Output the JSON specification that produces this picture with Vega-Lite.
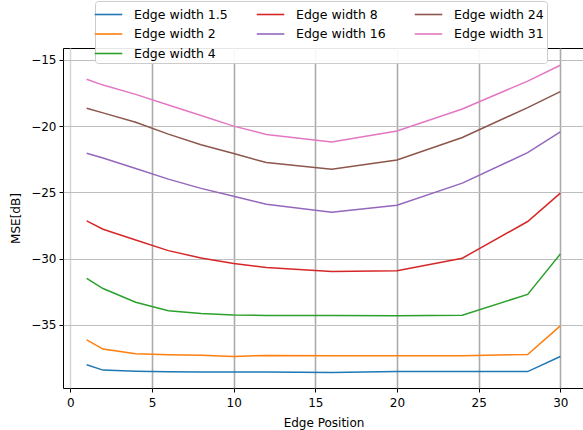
{
  "$schema": "https://vega.github.io/schema/vega-lite/v6.json",
  "width": 521,
  "height": 340,
  "autosize": {"type": "none"},
  "padding": {"left": 63, "top": 48, "right": 0, "bottom": 42},
  "background": "white",
  "config": {
    "font": "DejaVu Sans",
    "view": {"stroke": "black", "strokeWidth": 1},
    "axis": {
      "labelFont": "DejaVu Sans", "labelFontSize": 12, "labelColor": "black",
      "titleFont": "DejaVu Sans", "titleFontSize": 12, "titleFontWeight": "normal", "titleColor": "black",
      "domain": false, "tickColor": "black", "tickSize": 4, "tickWidth": 1
    }
  },
  "data": {"values": [
    {"k":"a","x":1,"y":-38.02},{"k":"a","x":2,"y":-38.42},{"k":"a","x":4,"y":-38.5},{"k":"a","x":6,"y":-38.55},{"k":"a","x":8,"y":-38.56},{"k":"a","x":10,"y":-38.56},{"k":"a","x":12,"y":-38.56},{"k":"a","x":16,"y":-38.6},{"k":"a","x":20,"y":-38.53},{"k":"a","x":24,"y":-38.53},{"k":"a","x":28,"y":-38.53},{"k":"a","x":30,"y":-37.39},
    {"k":"b","x":1,"y":-36.13},{"k":"b","x":2,"y":-36.83},{"k":"b","x":4,"y":-37.19},{"k":"b","x":6,"y":-37.26},{"k":"b","x":8,"y":-37.3},{"k":"b","x":10,"y":-37.39},{"k":"b","x":12,"y":-37.31},{"k":"b","x":16,"y":-37.34},{"k":"b","x":20,"y":-37.33},{"k":"b","x":24,"y":-37.33},{"k":"b","x":28,"y":-37.24},{"k":"b","x":30,"y":-35.08},
    {"k":"c","x":1,"y":-16.46},{"k":"c","x":2,"y":-16.9},{"k":"c","x":4,"y":-17.6},{"k":"c","x":6,"y":-18.4},{"k":"c","x":8,"y":-19.2},{"k":"c","x":10,"y":-20.0},{"k":"c","x":12,"y":-20.63},{"k":"c","x":16,"y":-21.2},{"k":"c","x":20,"y":-20.36},{"k":"c","x":24,"y":-18.7},{"k":"c","x":28,"y":-16.6},{"k":"c","x":30,"y":-15.4},
    {"k":"d","x":1,"y":-27.15},{"k":"d","x":2,"y":-27.78},{"k":"d","x":4,"y":-28.6},{"k":"d","x":6,"y":-29.4},{"k":"d","x":8,"y":-29.95},{"k":"d","x":10,"y":-30.37},{"k":"d","x":12,"y":-30.67},{"k":"d","x":16,"y":-30.97},{"k":"d","x":20,"y":-30.92},{"k":"d","x":24,"y":-29.97},{"k":"d","x":28,"y":-27.2},{"k":"d","x":30,"y":-25.06},
    {"k":"e","x":1,"y":-22.04},{"k":"e","x":2,"y":-22.4},{"k":"e","x":4,"y":-23.2},{"k":"e","x":6,"y":-24.0},{"k":"e","x":8,"y":-24.7},{"k":"e","x":10,"y":-25.3},{"k":"e","x":12,"y":-25.9},{"k":"e","x":16,"y":-26.5},{"k":"e","x":20,"y":-25.97},{"k":"e","x":24,"y":-24.3},{"k":"e","x":28,"y":-22.0},{"k":"e","x":30,"y":-20.43},
    {"k":"f","x":1,"y":-31.5},{"k":"f","x":2,"y":-32.26},{"k":"f","x":4,"y":-33.3},{"k":"f","x":6,"y":-33.94},{"k":"f","x":8,"y":-34.14},{"k":"f","x":10,"y":-34.25},{"k":"f","x":12,"y":-34.3},{"k":"f","x":16,"y":-34.3},{"k":"f","x":20,"y":-34.32},{"k":"f","x":24,"y":-34.27},{"k":"f","x":28,"y":-32.7},{"k":"f","x":30,"y":-29.66},
    {"k":"g","x":1,"y":-18.65},{"k":"g","x":2,"y":-19.0},{"k":"g","x":4,"y":-19.7},{"k":"g","x":6,"y":-20.6},{"k":"g","x":8,"y":-21.4},{"k":"g","x":10,"y":-22.07},{"k":"g","x":12,"y":-22.75},{"k":"g","x":16,"y":-23.25},{"k":"g","x":20,"y":-22.55},{"k":"g","x":24,"y":-20.86},{"k":"g","x":28,"y":-18.6},{"k":"g","x":30,"y":-17.39}
  ]},
  "mark": {"type": "line", "strokeWidth": 1.5, "clip": true},
  "encoding": {
    "x": {
      "field": "x", "type": "quantitative",
      "scale": {"domain": [-0.45, 31.45], "nice": false, "zero": false},
      "axis": {
        "title": "Edge Position", "values": [0, 5, 10, 15, 20, 25, 30], "format": "d",
        "grid": true,
        "gridColor": {"condition": {"test": "datum.value === 0", "value": "#d6d6d6"}, "value": "#ababab"},
        "gridWidth": {"condition": {"test": "datum.value === 0", "value": 1.5}, "value": 1.6},
        "labelPadding": 5, "titlePadding": 9
      }
    },
    "y": {
      "field": "y", "type": "quantitative",
      "scale": {"domain": [-39.77, -14.1], "nice": false, "zero": false},
      "axis": {
        "title": "MSE[dB]", "values": [-35, -30, -25, -20, -15], "format": "d",
        "grid": true, "gridColor": "#bdbdbd", "gridWidth": 1,
        "labelPadding": 3, "titlePadding": 8
      }
    },
    "color": {
      "field": "k", "type": "nominal",
      "scale": {
        "domain": ["a", "b", "c", "d", "e", "f", "g"],
        "range": ["#1f77b4", "#ff7f0e", "#e377c2", "#d62728", "#9467bd", "#2ca02c", "#8c564b"]
      },
      "legend": {
        "title": null, "orient": "none", "legendX": 32, "legendY": -47,
        "labelExpr": "{'a': 'Edge width 1.5', 'b': 'Edge width 2', 'c': 'Edge width 31', 'd': 'Edge width 8', 'e': 'Edge width 16', 'f': 'Edge width 4', 'g': 'Edge width 24'}[datum.value]",
        "columns": 3, "columnPadding": 25, "rowPadding": 2.5,
        "symbolType": "M-1.45,0L1.45,0", "symbolSize": 361, "symbolStrokeWidth": 1.6,
        "labelFont": "DejaVu Sans", "labelFontSize": 12.5, "labelColor": "black", "labelOffset": 15,
        "fillColor": "rgba(255,255,255,0.9)", "strokeColor": "#cccccc", "cornerRadius": 3, "padding": 3
      }
    }
  }
}
